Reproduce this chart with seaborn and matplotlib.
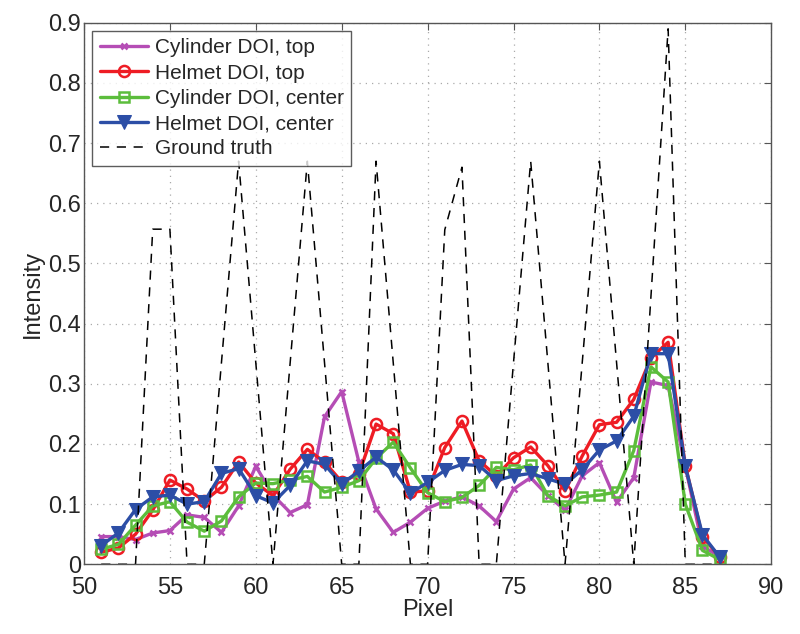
import matplotlib
matplotlib.use("Agg")
import matplotlib.pyplot as plt
import seaborn as sns
import pandas as pd

pixels = list(range(51, 88))

cyl_top = [0.046, 0.046, 0.041, 0.052, 0.056, 0.082, 0.078, 0.053, 0.097, 0.163,
           0.115, 0.086, 0.099, 0.245, 0.287, 0.170, 0.092, 0.053, 0.070, 0.093,
           0.105, 0.112, 0.097, 0.071, 0.125, 0.144, 0.114, 0.090, 0.147, 0.169,
           0.103, 0.144, 0.303, 0.297, 0.163, 0.030, 0.013]
helmet_top = [0.020, 0.027, 0.050, 0.090, 0.140, 0.125, 0.105, 0.128, 0.170, 0.135,
              0.114, 0.158, 0.191, 0.170, 0.137, 0.150, 0.233, 0.217, 0.120, 0.122,
              0.194, 0.238, 0.172, 0.147, 0.177, 0.195, 0.164, 0.122, 0.180, 0.232,
              0.236, 0.274, 0.343, 0.369, 0.164, 0.046, 0.012]
cyl_center = [0.025, 0.033, 0.065, 0.097, 0.104, 0.070, 0.055, 0.072, 0.112, 0.135,
              0.134, 0.140, 0.146, 0.120, 0.128, 0.139, 0.176, 0.203, 0.160, 0.119,
              0.104, 0.111, 0.131, 0.161, 0.157, 0.165, 0.114, 0.097, 0.112, 0.115,
              0.120, 0.189, 0.328, 0.303, 0.100, 0.023, 0.008]
helmet_center = [0.031, 0.052, 0.091, 0.112, 0.115, 0.100, 0.104, 0.151, 0.159, 0.114,
                 0.102, 0.131, 0.172, 0.166, 0.133, 0.155, 0.178, 0.157, 0.118, 0.136,
                 0.156, 0.166, 0.164, 0.139, 0.147, 0.151, 0.142, 0.133, 0.157, 0.190,
                 0.205, 0.246, 0.350, 0.350, 0.163, 0.049, 0.012]
ground_truth = [0.0, 0.0, 0.0, 0.557, 0.557, 0.0, 0.0, 0.335, 0.67, 0.335,
                0.0, 0.335, 0.67, 0.335, 0.0, 0.0, 0.67, 0.335, 0.0, 0.0,
                0.556, 0.66, 0.0, 0.0, 0.335, 0.67, 0.335, 0.0, 0.335, 0.67,
                0.335, 0.0, 0.445, 0.89, 0.0, 0.0, 0.0]

df = pd.DataFrame({
    "Pixel": pixels,
    "cyl_top": cyl_top,
    "helmet_top": helmet_top,
    "cyl_center": cyl_center,
    "helmet_center": helmet_center,
    "truth": ground_truth,
})

sns.set_style("white")
plt.rcParams["font.family"] = ["Liberation Sans", "DejaVu Sans"]

fig, ax = plt.subplots(figsize=(8, 6.34), dpi=100)
fig.subplots_adjust(left=0.105, right=0.964, top=0.964, bottom=0.110)

sns.lineplot(data=df, x="Pixel", y="cyl_top", ax=ax, color="#b54db5", lw=2.4,
             marker="x", markersize=5, markeredgewidth=1.8, markeredgecolor="#b54db5",
             label="Cylinder DOI, top")
sns.lineplot(data=df, x="Pixel", y="helmet_top", ax=ax, color="#ee1c24", lw=2.4,
             marker="o", markersize=8, markerfacecolor="none", markeredgewidth=1.8,
             markeredgecolor="#ee1c24", label="Helmet DOI, top")
sns.lineplot(data=df, x="Pixel", y="cyl_center", ax=ax, color="#5cbd3c", lw=2.4,
             marker="s", markersize=7, markerfacecolor="none", markeredgewidth=1.8,
             markeredgecolor="#5cbd3c", label="Cylinder DOI, center")
sns.lineplot(data=df, x="Pixel", y="helmet_center", ax=ax, color="#2c4ea6", lw=2.4,
             marker="v", markersize=10, markeredgecolor="#2c4ea6",
             label="Helmet DOI, center")
sns.lineplot(data=df, x="Pixel", y="truth", ax=ax, color="black", lw=1.1,
             dashes=False, linestyle=(0, (6, 5)), label="Ground truth")

ax.set_xlim(50, 90)
ax.set_ylim(0, 0.9)
ax.set_xticks(range(50, 91, 5))
ax.set_yticks([i / 10 for i in range(10)])
ax.set_yticklabels(["0"] + [f"0.{i}" for i in range(1, 10)])
ax.tick_params(direction="in", length=5, labelsize=17, top=True, right=True,
               color="#555555")
ax.tick_params(axis="x", pad=9)
ax.tick_params(axis="y", pad=2)
for s in ax.spines.values():
    s.set_color("#555555")
    s.set_linewidth(1.0)
ax.grid(True, linestyle=(0, (1, 4)), color="#aaaaaa", linewidth=0.9)
ax.set_xlabel("Pixel", fontsize=17, labelpad=0)
ax.set_ylabel("Intensity", fontsize=17, labelpad=3)

leg = ax.legend(loc="upper left", fontsize=15, frameon=True, fancybox=False,
                edgecolor="#333333", handlelength=2.3, handletextpad=0.35,
                borderpad=0.35, labelspacing=0.3, borderaxespad=0.4)
leg.get_frame().set_linewidth(1.0)

fig.savefig("out.png", dpi=100)
